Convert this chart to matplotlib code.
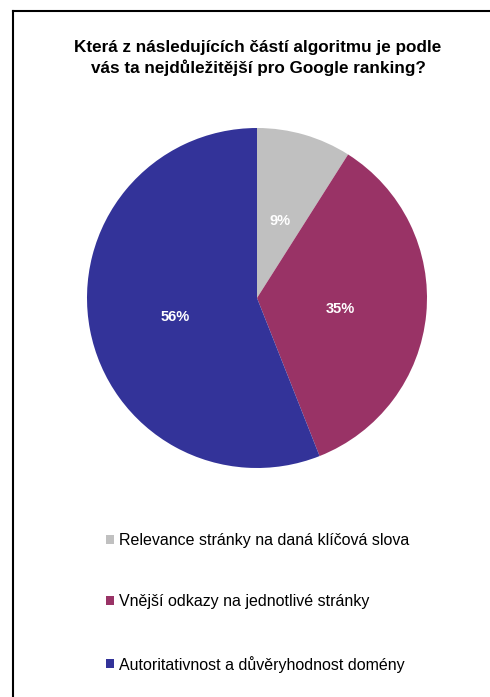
import matplotlib
matplotlib.use("Agg")
import matplotlib.pyplot as plt
import matplotlib.transforms as mtransforms
from matplotlib.lines import Line2D

plt.rcParams['font.family'] = ['Liberation Sans', 'DejaVu Sans']

# data
title = "Která z následujících částí algoritmu je podle\nvás ta nejdůležitější pro Google ranking?"
labels = ["Relevance stránky na daná klíčová slova",
          "Vnější odkazy na jednotlivé stránky",
          "Autoritativnost a důvěryhodnost domény"]
values = [9, 35, 56]
colors = ["#C0C0C0", "#993366", "#333399"]

W, H = 490, 697
fig = plt.figure(figsize=(W / 100, H / 100), dpi=100)

# frame of the screenshot (top and left edges only)
fig.add_artist(Line2D([12.5 / W, 1.0], [1 - 10.5 / H, 1 - 10.5 / H], color="black", lw=1.5))
fig.add_artist(Line2D([12.5 / W, 12.5 / W], [0.0, 1 - 10.5 / H], color="black", lw=1.5))

fig.text(258 / W, 1 - 58 / H, title, ha="center", va="center", fontsize=12.3,
         fontweight="bold", linespacing=1.3)

# pie: centre (257, 298), radius 170 px
cx, cy, r = 257, 298, 170
ax = fig.add_axes([(cx - r) / W, 1 - (cy + r) / H, 2 * r / W, 2 * r / H])
wedges, texts, autotexts = ax.pie(values, colors=colors, startangle=90, counterclock=False,
                                  autopct="%d%%", pctdistance=0.49,
                                  wedgeprops=dict(linewidth=0),
                                  textprops=dict(color="white", fontweight="bold", fontsize=10.5))
# labels sit a little lower in the original
for t in autotexts:
    t.set_transform(mtransforms.offset_copy(t.get_transform(), fig=fig, y=-3, units="dots"))
ax.set_xlim(-1, 1)
ax.set_ylim(-1, 1)
ax.set_aspect("equal")
ax.axis("off")

fig.legend(wedges, labels, loc="upper left", bbox_to_anchor=(106 / W, 1 - 533 / H),
           frameon=False, fontsize=11.5, handlelength=0.5, handleheight=0.5,
           handletextpad=0.3, labelspacing=2.9, borderpad=0, borderaxespad=0)

fig.savefig("out.png", dpi=100)
